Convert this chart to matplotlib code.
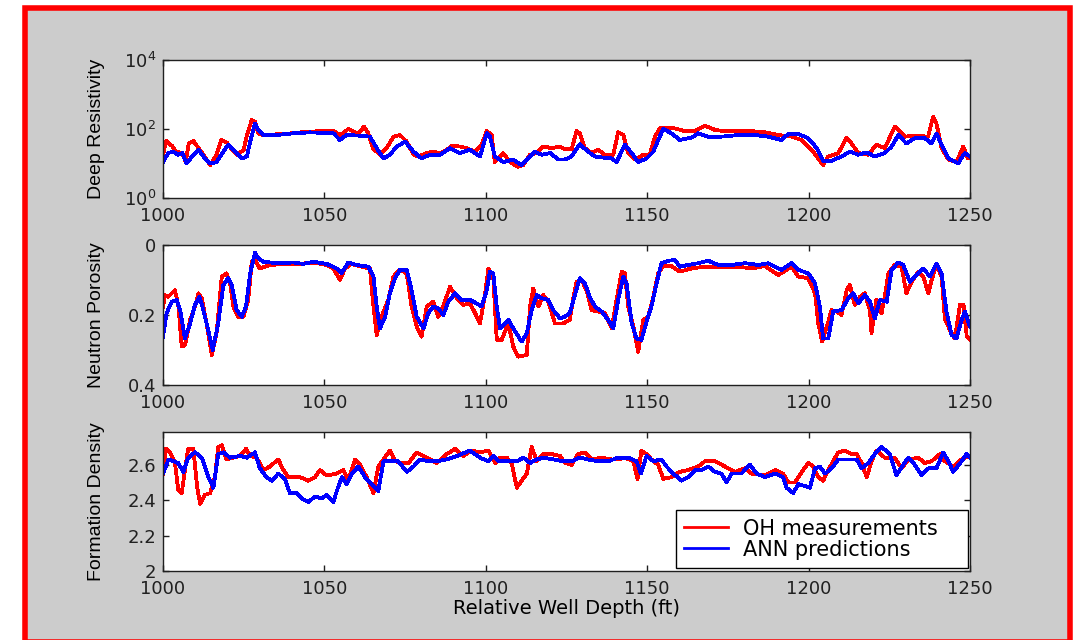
import matplotlib
matplotlib.use("Agg")
import matplotlib.pyplot as plt
from matplotlib.patches import Rectangle
from matplotlib.ticker import NullLocator

# ---- Deep resistivity (ohm-m), log scale ----
res_oh_depth = [1000, 1001, 1003, 1004, 1006, 1007, 1008, 1009.4, 1011, 1012.5, 1014.6, 1016.6,
                1018, 1019.7, 1021, 1023, 1025, 1026, 1027.5, 1028.5, 1029.5, 1031, 1035, 1040,
                1045, 1050, 1052.8, 1055, 1057.4, 1059, 1060.5, 1062.3, 1063.6, 1065, 1067.2,
                1069.3, 1071.4, 1073.4, 1075.5, 1077.6, 1079, 1081.7, 1083.7, 1086, 1088, 1089.4,
                1092, 1094, 1096.7, 1098.7, 1100.3, 1101.8, 1102.8, 1105.4, 1107.5, 1110, 1111.6,
                1113.7, 1115.8, 1117.8, 1120.4, 1123, 1124.5, 1126.6, 1128.1, 1129.1, 1130.7,
                1132.8, 1134.8, 1136.9, 1139.5, 1141, 1142.6, 1144.1, 1146.2, 1148.8, 1150.8,
                1152.4, 1153.9, 1157.5, 1161.7, 1164.8, 1167.9, 1171, 1174, 1178.2, 1182.3,
                1186.5, 1190.6, 1194.7, 1197.8, 1200.9, 1203, 1204.5, 1206.1, 1209.2, 1211.8,
                1213.3, 1215.4, 1218.5, 1221, 1223.6, 1226.7, 1229.8, 1232.9, 1237, 1238.6,
                1239.6, 1241.2, 1243.3, 1245.8, 1247.9, 1249.4, 1250]
res_oh = [18, 45, 31, 22, 20, 11, 38, 45, 28, 18, 9, 18,
          48, 41, 28, 18, 25, 67, 182, 163, 75, 67, 70, 75,
          84, 87, 87, 67, 100, 84, 75, 117, 75, 28, 18,
          28, 60, 67, 43, 18, 16, 20, 22, 20, 25, 33,
          31, 28, 22, 35, 87, 67, 11, 20, 11, 8, 9,
          18, 20, 31, 28, 31, 26, 26, 87, 75, 28,
          20, 25, 18, 18, 80, 67, 20, 13, 18, 18,
          60, 105, 110, 87, 87, 125, 94, 87, 87, 87,
          80, 67, 60, 48, 25, 14, 9, 16, 20, 56,
          38, 20, 18, 35, 28, 117, 60, 64, 60, 229,
          146, 28, 13, 11, 31, 14, 14]

res_ann_depth = [1000, 1001.6, 1003, 1004.7, 1006, 1007.3, 1009.4, 1011, 1012.5, 1014.6, 1016.6,
                 1018.7, 1020.2, 1022.3, 1024.4, 1026, 1027, 1028.5, 1029.5, 1031, 1035.2, 1040.4,
                 1045.5, 1052.8, 1054.8, 1056.9, 1061, 1064.1, 1066.2, 1068.3, 1070.3, 1072.4,
                 1075, 1077.6, 1080.1, 1082.7, 1085.8, 1088.9, 1092, 1095, 1098.2, 1100.3,
                 1101.3, 1102.8, 1105.4, 1108.5, 1111, 1113, 1115.2, 1117.3, 1120, 1122.5,
                 1124.5, 1126.6, 1129.1, 1131.7, 1133.8, 1135.9, 1139, 1140.5, 1143.1, 1145.2,
                 1147.2, 1149.8, 1151.9, 1153.4, 1155, 1157.5, 1160.1, 1163.7, 1165.8, 1168.9,
                 1173, 1178.2, 1183.4, 1187.5, 1191.6, 1193.7, 1196.8, 1199.9, 1202.5, 1204.5,
                 1207.1, 1210.2, 1212.8, 1215.4, 1218, 1220.5, 1223.6, 1225.7, 1227.8, 1230.3,
                 1232.9, 1236, 1238.1, 1239.6, 1241.2, 1243.3, 1246.3, 1248.4, 1250]
res_ann = [11, 20, 22, 18, 20, 10, 18, 25, 16, 10, 11,
           22, 35, 22, 14, 16, 43, 146, 94, 67, 67, 75,
           80, 75, 48, 67, 64, 60, 28, 14, 18, 31,
           43, 22, 14, 18, 18, 28, 20, 25, 16, 75,
           60, 16, 11, 13, 9, 14, 22, 18, 20, 13,
           13, 16, 36, 22, 16, 15, 14, 11, 35, 20,
           11, 14, 22, 48, 100, 75, 48, 56, 75, 60,
           60, 67, 67, 60, 48, 72, 72, 54, 28, 12,
           12, 16, 22, 18, 21, 16, 20, 31, 67, 38,
           54, 54, 38, 75, 35, 14, 10, 20, 16]

# ---- Neutron porosity (fraction), inverted axis ----
por_oh_depth = [1000, 1000.6, 1001.6, 1002.7, 1003.7, 1004.8, 1005.8, 1006.8, 1008.4, 1009.9,
                1011, 1012, 1013.5, 1015.1, 1016.6, 1018.2, 1019.7, 1020.8, 1021.8, 1023.3,
                1024.9, 1026.4, 1027.5, 1028.5, 1030, 1033.1, 1038.3, 1042.4, 1046.6, 1050.7,
                1052.8, 1054.8, 1056.4, 1058.4, 1061.5, 1064.1, 1065.2, 1066.2, 1067.7, 1069.8,
                1071.4, 1073.4, 1075.5, 1077, 1078.6, 1080.1, 1081.7, 1083.7, 1085.3, 1086.8,
                1088.9, 1091, 1093, 1095.1, 1096.7, 1098.2, 1099.8, 1100.8, 1102.3, 1103.4,
                1104.9, 1107, 1108.5, 1110, 1112.7, 1113.7, 1114.7, 1116.3, 1117.8, 1119.4,
                1121.4, 1124, 1126, 1127.1, 1128.1, 1129.7, 1131.2, 1132.8, 1134.8, 1136.9,
                1139, 1140.5, 1142.1, 1143.1, 1144.1, 1145.7, 1147.2, 1148.8, 1150.3, 1151.9,
                1153.4, 1155, 1157.5, 1160.1, 1163.7, 1167.9, 1173, 1178.2, 1182.3, 1186.5,
                1190.6, 1194.7, 1196.8, 1199.9, 1202, 1203, 1204.2, 1206.1, 1207.1, 1208.7,
                1210.2, 1211.8, 1212.8, 1214.3, 1215.9, 1217.4, 1219, 1219.5, 1221, 1222.6,
                1223.6, 1224.7, 1226.7, 1228.8, 1230.3, 1231.9, 1234, 1235.5, 1237.1, 1238.1,
                1239.6, 1241.2, 1242.2, 1243.8, 1245.3, 1246.9, 1248, 1249, 1250]
por_oh = [0.176, 0.143, 0.148, 0.138, 0.129, 0.176, 0.290, 0.286, 0.214, 0.176,
          0.138, 0.152, 0.224, 0.314, 0.252, 0.090, 0.081, 0.110, 0.176, 0.205,
          0.205, 0.157, 0.048, 0.043, 0.067, 0.057, 0.054, 0.054, 0.050, 0.057,
          0.067, 0.100, 0.067, 0.054, 0.062, 0.067, 0.176, 0.257, 0.205, 0.157,
          0.090, 0.071, 0.081, 0.176, 0.233, 0.262, 0.176, 0.162, 0.205, 0.176,
          0.119, 0.152, 0.171, 0.167, 0.195, 0.224, 0.138, 0.067, 0.090, 0.271,
          0.271, 0.224, 0.290, 0.319, 0.314, 0.176, 0.124, 0.176, 0.143, 0.162,
          0.224, 0.224, 0.214, 0.152, 0.105, 0.100, 0.129, 0.186, 0.190, 0.195,
          0.238, 0.157, 0.076, 0.081, 0.176, 0.233, 0.305, 0.214, 0.205, 0.148,
          0.081, 0.060, 0.060, 0.076, 0.067, 0.062, 0.062, 0.062, 0.067, 0.060,
          0.086, 0.062, 0.090, 0.095, 0.138, 0.224, 0.276, 0.219, 0.186, 0.190,
          0.200, 0.129, 0.114, 0.171, 0.148, 0.138, 0.186, 0.252, 0.157, 0.195,
          0.148, 0.081, 0.057, 0.062, 0.138, 0.105, 0.076, 0.090, 0.138, 0.100,
          0.057, 0.090, 0.210, 0.243, 0.267, 0.171, 0.171, 0.262, 0.271]

por_ann_depth = [1000, 1001.1, 1002.7, 1004.2, 1005.3, 1006.8, 1008.4, 1009.9, 1011.3, 1012.5,
                 1014, 1015.4, 1017.1, 1018.7, 1020.2, 1021.3, 1022.8, 1024.4, 1025.7, 1027,
                 1028.5, 1029.5, 1031.1, 1035.2, 1040.4, 1043.5, 1046.6, 1050.7, 1053.8, 1055.3,
                 1057.4, 1060, 1063.6, 1065.2, 1066.2, 1067.2, 1068.8, 1070.3, 1071.9, 1073.4,
                 1075.5, 1077, 1078.6, 1080.7, 1082.2, 1083.7, 1085.3, 1086.8, 1088.4, 1090.5,
                 1092.5, 1095.1, 1097.2, 1098.7, 1100.3, 1101.3, 1102.3, 1103.4, 1104.4, 1107,
                 1108.5, 1111.1, 1112.7, 1114.2, 1115.8, 1117.3, 1119.4, 1120.9, 1123, 1124.5,
                 1126, 1127.6, 1129.1, 1130.7, 1132.2, 1133.8, 1135.9, 1137.9, 1139.5, 1141,
                 1142.6, 1143.6, 1145.2, 1146.7, 1148.2, 1149.8, 1151.3, 1152.9, 1154.4, 1156.5,
                 1158.6, 1160.1, 1162.7, 1165.8, 1168.9, 1172, 1176.1, 1180.3, 1184.4, 1187.5,
                 1191.6, 1194.7, 1196.8, 1199.9, 1202, 1203.5, 1204.5, 1206.1, 1207.6, 1210.2,
                 1212.3, 1213.8, 1215.4, 1217.4, 1219, 1220.5, 1222.1, 1224.2, 1225.7, 1227.8,
                 1229.3, 1231.4, 1233.4, 1235.5, 1237.6, 1239.6, 1241.2, 1242.7, 1244.3, 1245.8,
                 1247.4, 1248.4, 1250]
por_ann = [0.262, 0.195, 0.162, 0.157, 0.186, 0.267, 0.224, 0.171, 0.148, 0.186,
           0.243, 0.300, 0.224, 0.114, 0.095, 0.114, 0.186, 0.205, 0.176, 0.081,
           0.022, 0.038, 0.048, 0.052, 0.050, 0.054, 0.048, 0.054, 0.067, 0.081,
           0.050, 0.057, 0.062, 0.090, 0.176, 0.238, 0.205, 0.138, 0.095, 0.071,
           0.070, 0.129, 0.205, 0.238, 0.195, 0.176, 0.181, 0.200, 0.162, 0.138,
           0.157, 0.157, 0.167, 0.176, 0.129, 0.076, 0.081, 0.176, 0.238, 0.214,
           0.238, 0.276, 0.252, 0.186, 0.143, 0.152, 0.157, 0.186, 0.210, 0.205,
           0.195, 0.143, 0.095, 0.110, 0.148, 0.176, 0.190, 0.214, 0.238, 0.157,
           0.090, 0.110, 0.224, 0.267, 0.271, 0.219, 0.176, 0.110, 0.052, 0.045,
           0.043, 0.062, 0.057, 0.052, 0.045, 0.057, 0.057, 0.052, 0.057, 0.052,
           0.071, 0.052, 0.071, 0.081, 0.110, 0.176, 0.267, 0.267, 0.190, 0.186,
           0.152, 0.138, 0.167, 0.143, 0.162, 0.210, 0.157, 0.162, 0.071, 0.050,
           0.057, 0.105, 0.086, 0.067, 0.090, 0.054, 0.081, 0.190, 0.257, 0.267,
           0.214, 0.190, 0.233]

# ---- Formation density (g/cc) ----
den_oh_depth = [1000, 1000.9, 1002.2, 1003.7, 1004.7, 1005.8, 1006.8, 1007.8, 1009.4, 1010.6,
                1011.5, 1013, 1014.6, 1016.1, 1017.1, 1018.2, 1019.7, 1021.8, 1023.9, 1025.7,
                1027, 1029, 1031.1, 1033.1, 1035.7, 1037.3, 1038.8, 1042.4, 1045, 1047.1,
                1048.6, 1050.7, 1053.8, 1055.9, 1057.4, 1059.5, 1061, 1063.1, 1065.2, 1066.7,
                1068.3, 1070.3, 1071.9, 1074, 1076.1, 1078.6, 1081.7, 1084.8, 1087.9, 1090.5,
                1093, 1095.6, 1098.2, 1100.8, 1102.9, 1104.4, 1106.5, 1108, 1109.6, 1111.1,
                1112.7, 1114.2, 1115.8, 1117.8, 1120.4, 1123, 1124.5, 1126.6, 1128.6, 1130.7,
                1132.8, 1135.9, 1139, 1141, 1143.1, 1145.7, 1147, 1148.2, 1149.8, 1151.3,
                1153.4, 1155, 1157.5, 1160.1, 1162.7, 1165.8, 1167.9, 1171, 1174.1, 1177.2,
                1180.3, 1182.3, 1186.5, 1189.6, 1192.1, 1193.7, 1195.8, 1196.8, 1198.3, 1199.9,
                1201.4, 1203, 1204.5, 1206.1, 1207.6, 1209.2, 1211.2, 1213.3, 1214.9, 1216.4,
                1218, 1219.5, 1221, 1223.6, 1226.7, 1228.8, 1230.9, 1234, 1236, 1238.1,
                1240.7, 1242.2, 1244.8, 1247.4, 1249.4, 1250]
den_oh = [2.55, 2.69, 2.67, 2.61, 2.46, 2.44, 2.57, 2.69, 2.69, 2.47,
          2.38, 2.43, 2.44, 2.53, 2.70, 2.71, 2.63, 2.64, 2.65, 2.69,
          2.65, 2.64, 2.57, 2.59, 2.63, 2.57, 2.53, 2.53, 2.51, 2.53,
          2.57, 2.54, 2.55, 2.57, 2.51, 2.63, 2.60, 2.53, 2.44, 2.59,
          2.63, 2.68, 2.62, 2.61, 2.61, 2.67, 2.64, 2.61, 2.66, 2.69,
          2.65, 2.68, 2.67, 2.68, 2.61, 2.64, 2.64, 2.61, 2.47, 2.51,
          2.55, 2.70, 2.62, 2.66, 2.66, 2.65, 2.61, 2.60, 2.66, 2.67,
          2.63, 2.64, 2.63, 2.63, 2.64, 2.62, 2.52, 2.68, 2.66, 2.63,
          2.60, 2.52, 2.53, 2.56, 2.57, 2.59, 2.62, 2.62, 2.59, 2.56,
          2.58, 2.55, 2.54, 2.57, 2.55, 2.50, 2.50, 2.53, 2.57, 2.61,
          2.59, 2.53, 2.51, 2.57, 2.62, 2.67, 2.68, 2.66, 2.66, 2.61,
          2.53, 2.62, 2.68, 2.64, 2.64, 2.58, 2.63, 2.64, 2.61, 2.62,
          2.66, 2.62, 2.59, 2.63, 2.65, 2.64]

den_ann_depth = [1000, 1001.7, 1003.2, 1004.7, 1006.3, 1007.8, 1009.9, 1012, 1014.1, 1015.6,
                 1017.1, 1018.7, 1020.8, 1023.9, 1026, 1028.5, 1030, 1032.1, 1033.7, 1035.7,
                 1037.8, 1039.3, 1041.4, 1043, 1045, 1047.1, 1049.2, 1050.7, 1052.8, 1053.8,
                 1055.4, 1056.9, 1058.5, 1060.5, 1062.6, 1064.7, 1066.7, 1068.3, 1070.3, 1072.9,
                 1075.5, 1077.6, 1079.6, 1082.2, 1084.8, 1087.9, 1091.1, 1095.1, 1098.2, 1100.8,
                 1102.3, 1103.9, 1106.5, 1109.6, 1111.7, 1113.7, 1115.8, 1117.8, 1120.9, 1124,
                 1126.6, 1129.1, 1131.7, 1134.8, 1137.9, 1141, 1144.1, 1146.7, 1148, 1149.8,
                 1151.9, 1154.4, 1156, 1158.1, 1160.6, 1162.7, 1164.8, 1166.8, 1168.9, 1171,
                 1173, 1174.6, 1176.1, 1179.2, 1181.8, 1183.9, 1186.5, 1189.6, 1192.1, 1193.2,
                 1195.2, 1196.8, 1198.9, 1200.4, 1202, 1203.5, 1205.1, 1207.1, 1209.2, 1212.3,
                 1214.9, 1216.4, 1218.5, 1220.5, 1222.6, 1225.2, 1227.2, 1229.3, 1230.9, 1232.9,
                 1235, 1237.1, 1239.6, 1241.7, 1243.3, 1244.8, 1247.4, 1248.9, 1250]
den_ann = [2.55, 2.63, 2.62, 2.61, 2.56, 2.64, 2.67, 2.64, 2.53, 2.47,
           2.66, 2.67, 2.64, 2.65, 2.64, 2.67, 2.58, 2.53, 2.51, 2.55,
           2.52, 2.44, 2.44, 2.41, 2.39, 2.42, 2.41, 2.43, 2.39, 2.45,
           2.53, 2.49, 2.55, 2.59, 2.53, 2.49, 2.45, 2.62, 2.62, 2.62,
           2.56, 2.59, 2.63, 2.62, 2.62, 2.63, 2.65, 2.68, 2.64, 2.62,
           2.65, 2.62, 2.62, 2.62, 2.64, 2.61, 2.63, 2.64, 2.63, 2.62,
           2.62, 2.64, 2.63, 2.62, 2.62, 2.64, 2.64, 2.62, 2.55, 2.65,
           2.62, 2.63, 2.59, 2.55, 2.51, 2.53, 2.57, 2.57, 2.59, 2.56,
           2.55, 2.50, 2.55, 2.55, 2.60, 2.55, 2.53, 2.55, 2.53, 2.47,
           2.44, 2.49, 2.48, 2.47, 2.58, 2.59, 2.55, 2.58, 2.63, 2.63,
           2.63, 2.58, 2.61, 2.66, 2.70, 2.66, 2.54, 2.60, 2.64, 2.60,
           2.54, 2.58, 2.58, 2.67, 2.62, 2.56, 2.62, 2.66, 2.64]

x_ticks = [1000, 1050, 1100, 1150, 1200, 1250]
res_ticks = [1, 100, 10000]
res_ticklabels = ["$10^{0}$", "$10^{2}$", "$10^{4}$"]
por_ticks = [0, 0.2, 0.4]
por_ticklabels = ["0", "0.2", "0.4"]
den_ticks = [2, 2.2, 2.4, 2.6]
den_ticklabels = ["2", "2.2", "2.4", "2.6"]

RED = "#ff0000"
BLUE = "#0000ff"
LW = 2.0
TICK_FS = 13
LABEL_FONT = ["Liberation Sans", "DejaVu Sans"]

fig = plt.figure(figsize=(10.81, 6.40), dpi=100)
fig.patch.set_facecolor("white")
W, H = 1081.0, 640.0
# grey panel with thick red frame, kept behind the axes
frame = Rectangle((24.5 / W, 1 - 642 / H), (1070 - 24.5) / W, (642 - 8) / H,
                  transform=fig.transFigure, facecolor="#cccccc",
                  edgecolor=RED, linewidth=4, zorder=-10)
fig.patches.append(frame)

left, width = 163 / W, 807 / W
ax1 = fig.add_axes([left, 1 - 198 / H, width, 138 / H])
ax2 = fig.add_axes([left, 1 - 385 / H, width, 140 / H])
ax3 = fig.add_axes([left, 1 - 571 / H, width, 139 / H])

line_kw = dict(lw=LW, antialiased=False)

ax1.plot(res_oh_depth, res_oh, color=RED, **line_kw)
ax1.plot(res_ann_depth, res_ann, color=BLUE, **line_kw)
ax1.set_yscale("log")
ax1.set_ylim(1, 10000)
ax1.set_yticks(res_ticks)
ax1.set_yticklabels(res_ticklabels)
ax1.yaxis.set_minor_locator(NullLocator())
ax1.set_ylabel("Deep Resistivity", family=LABEL_FONT, fontsize=14)

ax2.plot(por_oh_depth, por_oh, color=RED, **line_kw)
ax2.plot(por_ann_depth, por_ann, color=BLUE, **line_kw)
ax2.set_ylim(0.4, 0)
ax2.set_yticks(por_ticks)
ax2.set_yticklabels(por_ticklabels)
ax2.set_ylabel("Neutron Porosity", family=LABEL_FONT, fontsize=14)

ax3.plot(den_oh_depth, den_oh, color=RED, label="OH measurements", **line_kw)
ax3.plot(den_ann_depth, den_ann, color=BLUE, label="ANN predictions", **line_kw)
ax3.set_ylim(2, 2.785)
ax3.set_yticks(den_ticks)
ax3.set_yticklabels(den_ticklabels)
ax3.set_ylabel("Formation Density", family=LABEL_FONT, fontsize=14)
ax3.set_xlabel("Relative Well Depth (ft)", fontsize=14, labelpad=1)

for ax in (ax1, ax2, ax3):
    ax.set_zorder(1)
    ax.set_facecolor("white")
    ax.set_xlim(1000, 1250)
    ax.set_xticks(x_ticks)
    ax.set_xticklabels([str(t) for t in x_ticks])
    ax.tick_params(direction="in", top=True, right=True, length=4.5, width=1,
                   labelsize=TICK_FS, colors="#202020")
    ax.tick_params(axis="x", pad=6.5)
    ax.tick_params(axis="y", pad=5.0)
    for s in ax.spines.values():
        s.set_color("#202020")
        s.set_linewidth(1.0)
    ax.yaxis.set_label_coords(-0.072, 0.5)

# legend box stretched to the width seen in the reference
leg_box = ((676 - 163) / 807, 3 / 139, (968 - 676) / 807, 55 / 139)
leg = ax3.legend(loc="lower left", bbox_to_anchor=leg_box, mode="expand",
                 fontsize=15, frameon=True, fancybox=False,
                 edgecolor="black", framealpha=1, borderpad=0.4, labelspacing=0.05,
                 handlelength=2.1, handletextpad=0.7, borderaxespad=0)
leg.get_frame().set_linewidth(1.0)

fig.savefig("out.png", dpi=100)
